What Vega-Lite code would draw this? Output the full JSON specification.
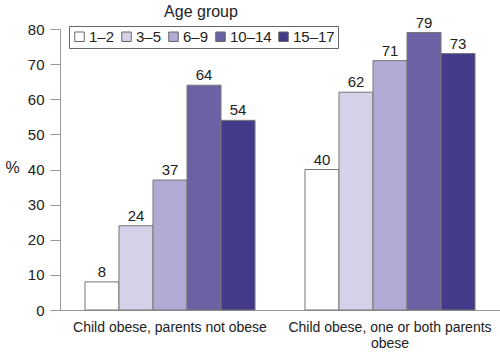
{
  "$schema": "https://vega.github.io/schema/vega-lite/v6.json",
  "autosize": "none",
  "width": 440,
  "height": 281,
  "padding": {"left": 60, "top": 29, "right": 0, "bottom": 46},
  "title": {"text": "Age group", "anchor": "middle", "dx": -79, "offset": -4, "fontSize": 16, "fontWeight": "normal", "color": "#222"},
  "data": {
    "values": [
      {"category": "Child obese, parents not obese", "age": "1–2", "pct": 8},
      {"category": "Child obese, parents not obese", "age": "3–5", "pct": 24},
      {"category": "Child obese, parents not obese", "age": "6–9", "pct": 37},
      {"category": "Child obese, parents not obese", "age": "10–14", "pct": 64},
      {"category": "Child obese, parents not obese", "age": "15–17", "pct": 54},
      {"category": "Child obese, one or both parents obese", "age": "1–2", "pct": 40},
      {"category": "Child obese, one or both parents obese", "age": "3–5", "pct": 62},
      {"category": "Child obese, one or both parents obese", "age": "6–9", "pct": 71},
      {"category": "Child obese, one or both parents obese", "age": "10–14", "pct": 79},
      {"category": "Child obese, one or both parents obese", "age": "15–17", "pct": 73}
    ]
  },
  "encoding": {
    "x": {
      "field": "category", "type": "nominal", "sort": null,
      "scale": {"paddingInner": 0.227, "paddingOuter": 0.1135},
      "axis": {
        "title": null, "labelAngle": 0, "ticks": false, "labelPadding": 10,
        "labelFontSize": 14, "labelColor": "#222", "domainColor": "#999", "labelLimit": 300,
        "labelExpr": "datum.label == 'Child obese, one or both parents obese' ? ['Child obese, one or both parents', 'obese'] : datum.label"
      }
    },
    "xOffset": {"field": "age", "type": "nominal", "sort": ["1–2", "3–5", "6–9", "10–14", "15–17"], "scale": {"paddingInner": 0, "paddingOuter": 0}},
    "y": {
      "field": "pct", "type": "quantitative",
      "scale": {"domain": [0, 80]},
      "axis": {
        "title": "%", "titleAngle": 0, "titleX": -48, "titleY": 146, "titleFontSize": 16, "titleFontWeight": "normal", "titleColor": "#222",
        "values": [0, 10, 20, 30, 40, 50, 60, 70, 80], "grid": false,
        "tickSize": 10, "labelPadding": 6, "labelFontSize": 15, "labelColor": "#222",
        "domainColor": "#999", "tickColor": "#999"
      }
    }
  },
  "layer": [
    {
      "mark": {"type": "bar", "stroke": "#777", "strokeWidth": 1},
      "encoding": {
        "fill": {
          "field": "age", "type": "nominal",
          "scale": {"domain": ["1–2", "3–5", "6–9", "10–14", "15–17"], "range": ["#ffffff", "#d4d2e9", "#b1aad4", "#6b62a6", "#433b89"]},
          "legend": {
            "title": null, "orient": "none", "direction": "horizontal", "columns": 5,
            "legendX": 9, "legendY": -3, "strokeColor": "#666", "padding": 3,
            "symbolType": "square", "symbolSize": 90, "symbolStrokeColor": "#666", "symbolStrokeWidth": 1,
            "labelFontSize": 15, "labelColor": "#222", "labelOffset": 2, "columnPadding": 4
          }
        }
      }
    },
    {
      "mark": {"type": "text", "dy": -10, "fontSize": 15, "color": "#222"},
      "encoding": {"text": {"field": "pct", "type": "quantitative"}}
    }
  ],
  "config": {"view": {"stroke": null}, "font": "Liberation Sans"}
}
